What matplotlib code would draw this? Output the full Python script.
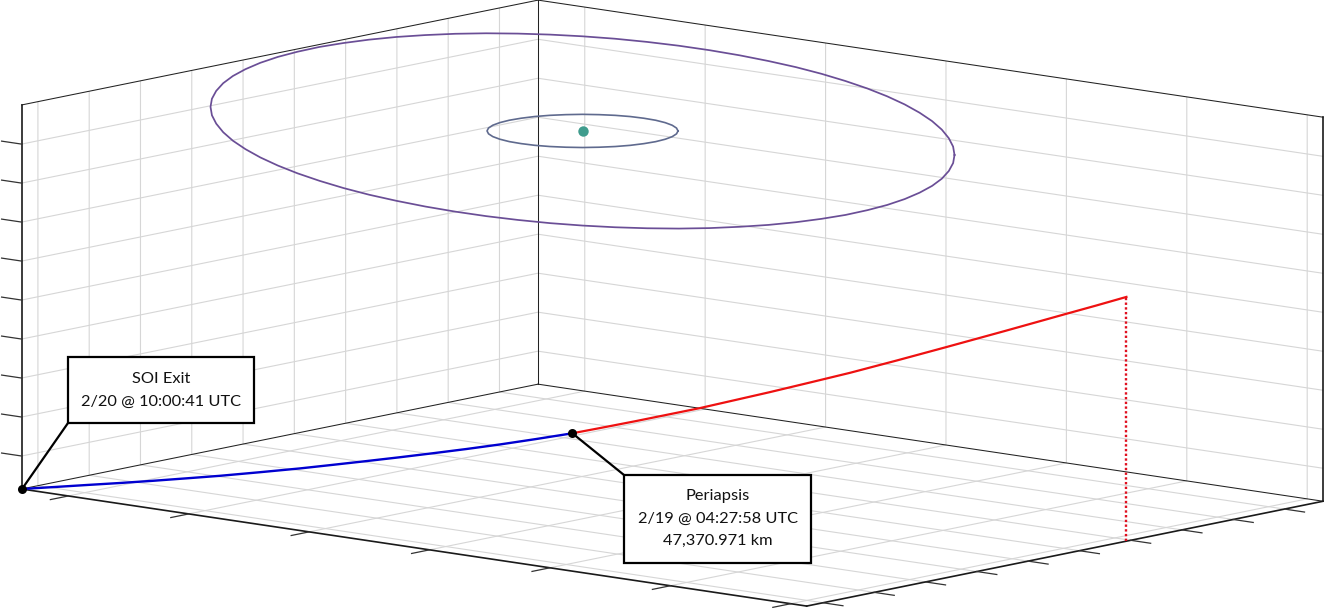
import numpy as np
import matplotlib
matplotlib.use("Agg")
import matplotlib.pyplot as plt
from matplotlib.patches import Rectangle
from mpl_toolkits.mplot3d import proj3d

W, H = 1324, 609

# axis ranges and tick positions (no tick labels on the original)
x_max, y_max, z_max = 6.52, 10.07, 9.85
x_ticks = [0.388, 1.388, 2.388, 3.388, 4.388, 5.388, 6.388]
y_ticks = [0.318, 1.318, 2.318, 3.318, 4.318, 5.318, 6.318, 7.318, 8.318, 9.318]
z_ticks = [0.846, 1.846, 2.846, 3.846, 4.846, 5.846, 6.846, 7.846, 8.846]

# trajectory, as coordinates in its own plane starting at the SOI exit
blue_a = [0, 33, 65, 98, 131, 165, 198, 238, 278, 311, 345, 378, 411, 445, 478, 514, 550]
blue_b = [0, 2, 4, 6, 8.2, 10.7, 13.2, 16.8, 20.6, 24.2, 28, 31.8, 35.8, 40.1, 44.6, 50, 55.7]
red_a = [550, 578, 614, 646, 678, 713, 748, 788, 828, 875, 923, 983, 1043, 1074, 1104.5]
red_b = [55.7, 61, 68, 74.5, 81, 89, 97, 106.6, 116.3, 128.7, 141.7, 158.2, 175, 183.6, 192.3]
traj_a = (0.005893, 0.005669, 0.0011967)
traj_b = (0.0, 0.0, 0.02564)

# orbits, as in-plane coordinates around the central body
center = (2.476, 5.124, 8.956)
plane_u = (0.004792, 0.008247, 0.0)
plane_v = (0.018855, -0.04425, -0.00513)

large_u = [372, 370.6, 366.3, 359.3, 349.6, 337.1, 322.2, 304.7, 285, 263, 239.1, 213.4,
           186, 157.2, 127.2, 96.3, 64.6, 32.4, 0, -32.4, -64.6, -96.3, -127.2, -157.2,
           -186, -213.4, -239.1, -263, -285, -304.7, -322.2, -337.1, -349.6, -359.3,
           -366.3, -370.6, -372, -370.6, -366.3, -359.3, -349.6, -337.1, -322.2, -304.7,
           -285, -263, -239.1, -213.4, -186, -157.2, -127.2, -96.3, -64.6, -32.4, 0, 32.4,
           64.6, 96.3, 127.2, 157.2, 186, 213.4, 239.1, 263, 285, 304.7, 322.2, 337.1,
           349.6, 359.3, 366.3, 370.6, 372]
large_v = [24, 32.1, 40, 47.7, 54.9, 61.7, 68.1, 74, 79.2, 84, 87.9, 91.3, 94, 95.9, 97.2,
           97.7, 97.4, 96.4, 94.7, 92.3, 89.1, 85.3, 80.8, 75.7, 70, 63.9, 57.2, 50, 42.5,
           34.7, 26.6, 18.3, 9.9, 1.4, -7.2, -15.6, -24, -32.1, -40, -47.7, -54.9, -61.7,
           -68.1, -74, -79.2, -84, -87.9, -91.3, -94, -95.9, -97.2, -97.7, -97.4, -96.4,
           -94.7, -92.3, -89.1, -85.3, -80.8, -75.7, -70, -63.9, -57.2, -50, -42.5, -34.7,
           -26.6, -18.3, -9.9, -1.4, 7.2, 15.6, 24]
small_u = [95.5, 94.0, 89.7, 82.7, 73.2, 61.4, 47.8, 32.7, 16.6, 0, -16.6, -32.7, -47.8,
           -61.4, -73.2, -82.7, -89.7, -94.0, -95.5, -94.0, -89.7, -82.7, -73.2, -61.4,
           -47.8, -32.7, -16.6, 0, 16.6, 32.7, 47.8, 61.4, 73.2, 82.7, 89.7, 94.0, 95.5]
small_v = [0, 2.9, 5.7, 8.3, 10.7, 12.7, 14.4, 15.6, 16.3, 16.6, 16.3, 15.6, 14.4, 12.7,
           10.7, 8.3, 5.7, 2.9, 0, -2.9, -5.7, -8.3, -10.7, -12.7, -14.4, -15.6, -16.3,
           -16.6, -16.3, -15.6, -14.4, -12.7, -10.7, -8.3, -5.7, -2.9, 0]

soi_text = "SOI Exit\n2/20 @ 10:00:41 UTC"
peri_text = "Periapsis\n2/19 @ 04:27:58 UTC\n47,370.971 km"


def orbit_xyz(u, v):
    u, v = np.array(u), np.array(v)
    return [center[i] + u * plane_u[i] + v * plane_v[i] for i in range(3)]


def traj_xyz(a, b):
    a, b = np.array(a), np.array(b)
    return [a * traj_a[i] + b * traj_b[i] for i in range(3)]


plt.rcParams['grid.color'] = '#d6d6d6'
plt.rcParams['grid.linewidth'] = 0.8

fig = plt.figure(figsize=(W / 100, H / 100), dpi=100)
ax = fig.add_axes([0, 0, 1, W / H], projection='3d', proj_type='ortho', computed_zorder=False)
ax.view_init(elev=10.02, azim=-49.4)
ax.set_xlim(0, x_max, view_margin=0)
ax.set_ylim(0, y_max, view_margin=0)
ax.set_zlim(0, z_max, view_margin=0)
ax.set_box_aspect((1034, 793.6, 390), zoom=0.7)
ax.set_xticks(x_ticks)
ax.set_yticks(y_ticks)
ax.set_zticks(z_ticks)
ax.set_xticklabels([])
ax.set_yticklabels([])
ax.set_zticklabels([])
for axis in (ax.xaxis, ax.yaxis, ax.zaxis):
    axis.set_pane_color((1, 1, 1, 1))
    axis.pane.set_edgecolor('none')
    axis.line.set_color((0, 0, 0, 0))
    axis._axinfo['tick'].update(inward_factor=0, outward_factor=0,
                                linewidth={True: 0, False: 0})


def to_pixels(x, y, z):
    xp, yp, _ = proj3d.proj_transform(x, y, z, ax.get_proj())
    return ax.transData.transform((xp, yp))


# fit the box to the picture: left corner and width of the floor diagonal
p0, p1 = to_pixels(0, 0, 0), to_pixels(x_max, y_max, 0)
size = W * 1301.5 / (p1[0] - p0[0])
ax.set_position([0, 0, size / W, size / H])
p0 = to_pixels(0, 0, 0)
ax.set_position([(21.6 - p0[0]) / W, ((H - 489) - p0[1]) / H, size / W, size / H])

# box edges
edge_thin = dict(color='#222222', lw=0.75, zorder=3)
edge_thick = dict(color='#1a1a1a', lw=1.2, zorder=3)
ax.plot([0, 0], [0, y_max], [0, 0], **edge_thin)
ax.plot([0, x_max], [y_max, y_max], [0, 0], **edge_thin)
ax.plot([0, 0], [y_max, y_max], [0, z_max], **edge_thin)
ax.plot([0, 0], [0, y_max], [z_max, z_max], **edge_thin)
ax.plot([0, x_max], [y_max, y_max], [z_max, z_max], **edge_thin)
ax.plot([0, x_max], [0, 0], [0, 0], **edge_thick)
ax.plot([x_max, x_max], [0, y_max], [0, 0], **edge_thick)
ax.plot([0, 0], [0, 0], [0, z_max], **edge_thick)
ax.plot([x_max, x_max], [y_max, y_max], [0, z_max], **edge_thick)

# tick marks
tick_style = dict(color='#333333', lw=0.9, zorder=3)
for t in x_ticks:
    ax.plot([t, t], [0, -0.35], [0, 0], **tick_style)
for t in y_ticks:
    ax.plot([x_max, x_max + 0.166], [t, t], [0, 0], **tick_style)
for t in z_ticks:
    ax.plot([0, -0.166], [0, 0], [t, t], **tick_style)

# orbits and central body
ax.plot(*orbit_xyz(large_u, large_v), color='#6a4e96', lw=1.25, zorder=4)
ax.plot(*orbit_xyz(small_u, small_v), color='#5f6a8e', lw=1.2, zorder=4)
ax.plot([center[0]], [center[1]], [center[2]], 'o', color='#3f9c8d', ms=7.5, mew=0, zorder=5)

# trajectory
blue = traj_xyz(blue_a, blue_b)
red = traj_xyz(red_a, red_b)
ax.plot(*blue, color='#0000d0', lw=1.7, zorder=6)
ax.plot(*red, color='#ee1111', lw=1.6, zorder=6)
ax.plot([red[0][-1], red[0][-1]], [red[1][-1], red[1][-1]], [0, red[2][-1]],
        color='#e01020', lw=1.7, ls=(0, (1, 1)), zorder=6)
ax.plot([blue[0][0], blue[0][-1]], [blue[1][0], blue[1][-1]], [blue[2][0], blue[2][-1]], 'o',
        color='black', ms=6.5, mew=0, zorder=7)

# callouts sit on a flat layer in picture coordinates
over = fig.add_axes([0, 0, 1, 1])
over.set_xlim(0, W)
over.set_ylim(H, 0)
over.axis('off')
over.patch.set_alpha(0)
over.plot([22, 68], [489, 423], color='black', lw=1.6)
over.plot([572, 624], [433, 475], color='black', lw=1.6)
over.add_patch(Rectangle((68, 357), 186, 66, fc='white', ec='black', lw=1.6))
over.add_patch(Rectangle((624, 475), 187, 88, fc='white', ec='black', lw=1.6))
over.text(161, 390.5, soi_text, ha='center', va='center', family='Lato', fontsize=11.8,
          color='#111111', linespacing=1.8)
over.text(718, 518.5, peri_text, ha='center', va='center', family='Lato', fontsize=11.8,
          color='#111111', linespacing=1.8)

fig.savefig('out.png', dpi=100)
